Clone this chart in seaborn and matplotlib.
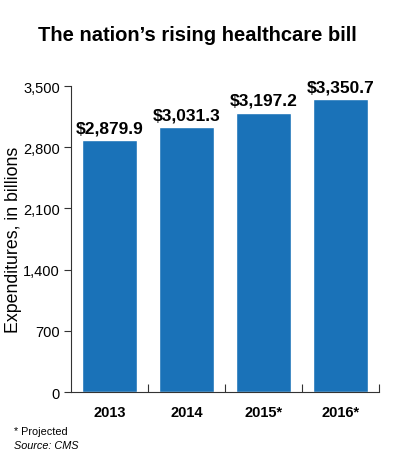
import pandas as pd
import seaborn as sb
import matplotlib.pyplot as plt

years = ['2013', '2014', '2015*', '2016*']
spend = [2879.9, 3031.3, 3197.2, 3350.7]
labels = ['$2,879.9', '$3,031.3', '$3,197.2', '$3,350.7']
yticks = [0, 700, 1400, 2100, 2800, 3500]

df = pd.DataFrame({'Year': years, 'Spend': spend})

sb.set_style('ticks')
plt.rcParams['font.family'] = ['Liberation Sans', 'DejaVu Sans']
for k in ['text.color', 'axes.labelcolor', 'xtick.color', 'ytick.color']:
    plt.rcParams[k] = 'black'

fig = plt.figure(figsize=(3.98, 4.56), dpi=100)
ax = fig.add_axes([0.178, 0.138, 0.774, 0.671])

sb.barplot(data=df, x='Year', y='Spend', color='#1a72b8', saturation=1, width=0.72, ax=ax)

# value labels above the bars
for i, v in enumerate(spend):
    ax.text(i, v + 55, labels[i], ha='center', va='bottom', fontsize=12.5, fontweight='bold')

ax.set_xlim(-0.5, 3.5)
ax.set_ylim(0, 3500)
ax.set_yticks(yticks)
ax.set_yticklabels([f'{t:,}' for t in yticks], fontsize=10.5)
ax.set_xticks(range(4))
ax.set_xticklabels(years, fontsize=10.5, fontweight='bold')
ax.tick_params(axis='x', length=0, pad=9)
ax.tick_params(axis='y', length=5, width=0.8, color='#333333', pad=3)
ax.set_xticks([0.5, 1.5, 2.5, 3.5], minor=True)
ax.tick_params(axis='x', which='minor', direction='in', length=6, width=0.8, color='#333333')
ax.set_xlabel('')
ax.set_ylabel('Expenditures, in billions', fontsize=12.8)
ax.yaxis.set_label_coords(-0.16, 0.5)
sb.despine(ax=ax)
for s in ['left', 'bottom']:
    ax.spines[s].set_color('#333333')
    ax.spines[s].set_linewidth(0.8)

fig.text(0.497, 0.923, 'The nation\u2019s rising healthcare bill', ha='center', va='center',
         fontsize=14.5, fontweight='bold')
fig.text(0.035, 0.053, '* Projected', fontsize=7.8, va='center')
fig.text(0.035, 0.022, 'Source: CMS', fontsize=7.8, va='center', style='italic')

plt.savefig('out.png', dpi=100)
